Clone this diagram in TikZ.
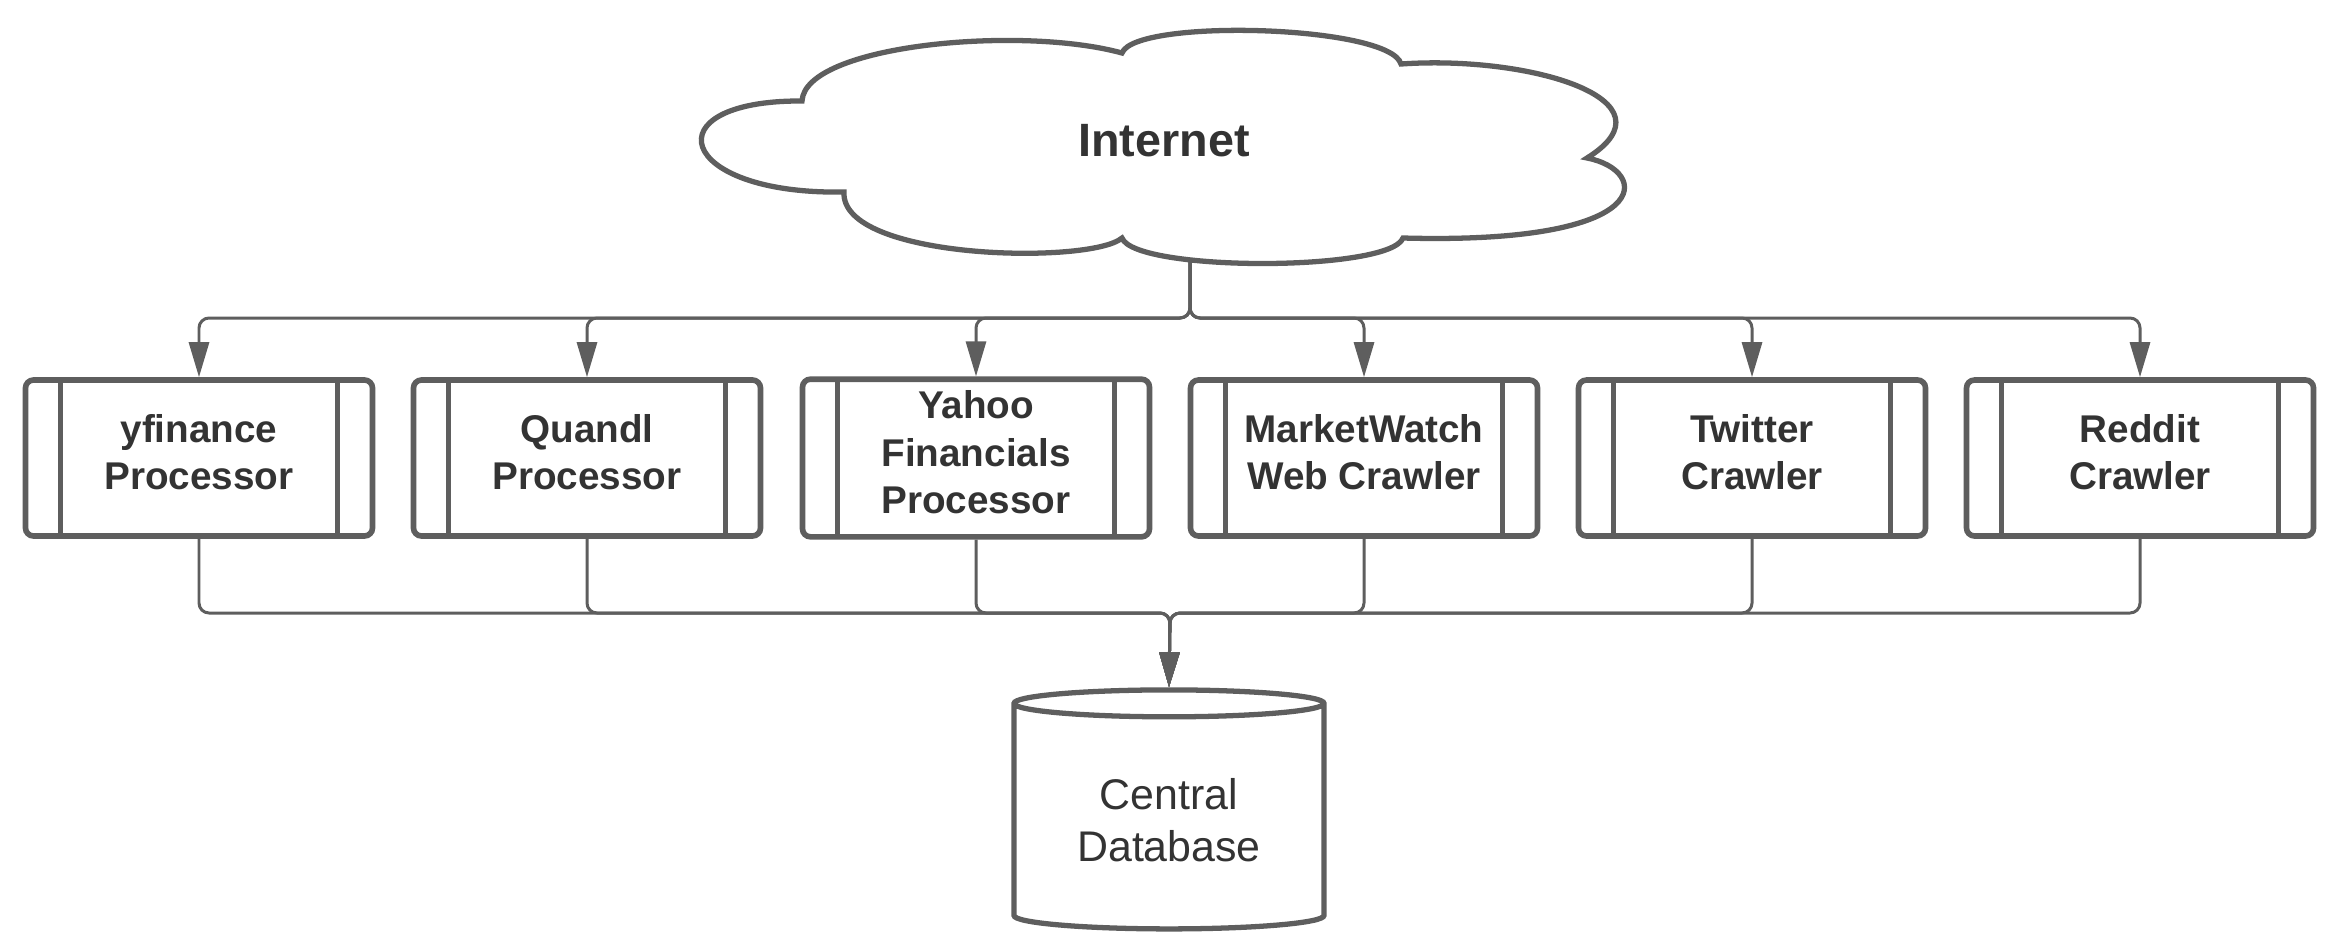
\documentclass[tikz,border=0pt]{standalone}
\usepackage{fontspec}
\setmainfont{Liberation Sans}
\usepackage{tikz}
\usetikzlibrary{shapes.geometric,arrows.meta}
\definecolor{linegray}{HTML}{5E5E5E}
\definecolor{textgray}{HTML}{333333}

\begin{document}
\begin{tikzpicture}
  \tikzstyle{proc}  =[draw=linegray, line width=1.6pt, rounded corners=0.08cm, minimum width=3.47cm, minimum height=1.56cm,
                      align=center, text=textgray, text depth=0.12cm, font=\fontsize{11}{13.4}\selectfont\bfseries,
                      path picture={\draw[linegray, line width=1.4pt]
                        ([xshift=0.35cm]path picture bounding box.north west) -- ([xshift=0.35cm]path picture bounding box.south west)
                        ([xshift=-0.35cm]path picture bounding box.north east) -- ([xshift=-0.35cm]path picture bounding box.south east);}]
  \tikzstyle{puffs} =[draw=linegray, line width=1.5pt, fill=white]
  \tikzstyle{label} =[text=textgray, font=\fontsize{13.3}{16}\selectfont\bfseries]
  \tikzstyle{store} =[cylinder, shape border rotate=90, aspect=0.13, draw=linegray, line width=1.5pt,
                      minimum width=3.1cm, minimum height=2.39cm, align=center, text=textgray, font=\fontsize{12.2}{14.7}\selectfont]
  \tikzstyle{conn}  =[draw=linegray, line width=0.85pt, rounded corners=0.1cm]
  \tikzstyle{tip}   =[-{Triangle[length=0.35cm, width=0.2cm]}]
  \useasboundingbox (0,0) rectangle (23.30,-9.46);
  \node[proc](b1) at ( 1.99,-4.58) {yfinance\\Processor};
  \node[proc](b2) at ( 5.87,-4.58) {Quandl\\Processor};
  \node[proc](b3) at ( 9.76,-4.58) {Yahoo\\Financials\\Processor};
  \node[proc](b4) at (13.64,-4.58) {MarketWatch\\Web Crawler};
  \node[proc](b5) at (17.52,-4.58) {Twitter\\Crawler};
  \node[proc](b6) at (21.40,-4.58) {Reddit\\Crawler};
  \node[store](db) at (11.69,-8.20) {Central\\Database};
  \coordinate (drop)  at (11.90,-2.55);
  \coordinate (split) at (11.90,-3.18);
  \coordinate (merge) at (11.70,-6.13);
  \foreach \b in {b1,b2,b3,b4,b5,b6}{
    \draw[conn,tip] (drop) -- (split) -| (\b.north);
    \draw[conn,tip] (\b.south) |- (merge) -- (db.north);
  }
  \draw[puffs] (8.02,-1.01)
    .. controls (8.05,-0.45) and (10.2,-0.25) .. (11.22,-0.53)
    .. controls (11.35,-0.18) and (13.9,-0.25) .. (14.01,-0.64)
    .. controls (15.3,-0.55) and (16.8,-1.0) .. (15.87,-1.58)
    .. controls (16.5,-1.7) and (16.6,-2.45) .. (14.03,-2.38)
    .. controls (13.9,-2.72) and (11.35,-2.72) .. (11.22,-2.38)
    .. controls (10.9,-2.65) and (8.4,-2.6) .. (8.44,-1.92)
    .. controls (6.75,-1.95) and (6.5,-1.0) .. cycle;
  \node[label](cloud) at (11.64,-1.41) {Internet};
\end{tikzpicture}
\end{document}
